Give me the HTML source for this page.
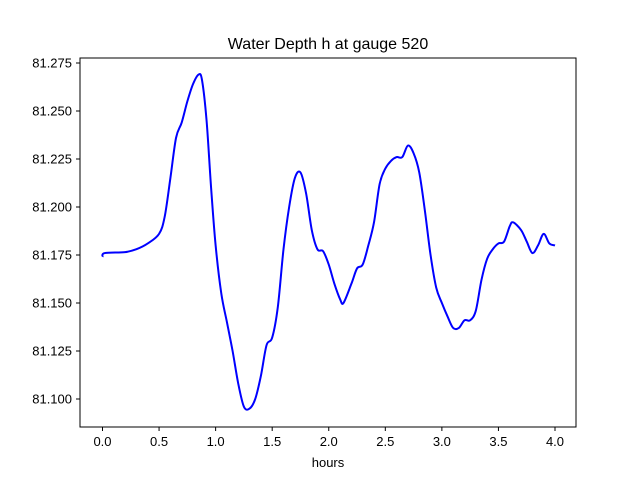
<!DOCTYPE html>
<html><head><meta charset="utf-8"><style>
body{margin:0;background:#fff;}
svg{display:block;font-family:"Liberation Sans","DejaVu Sans",sans-serif;}
</style></head><body>
<svg id="chart" width="640" height="480">
<rect width="640" height="480" fill="#fff"/>
<text x="328" y="49" text-anchor="middle" font-size="16">Water Depth h at gauge 520</text>
<g id="plot"></g>
<rect x="80" y="58" width="496" height="369" fill="none" stroke="#000" stroke-width="1"/>
<text x="328" y="467" text-anchor="middle" font-size="13">hours</text>
</svg>
<script>
const times=[0,0.02,0.2,0.3,0.4,0.5,0.55,0.6,0.65,0.7,0.75,0.8,0.85,0.88,0.92,0.96,1.0,1.05,1.1,1.15,1.2,1.25,1.3,1.35,1.4,1.45,1.5,1.55,1.6,1.65,1.7,1.75,1.8,1.85,1.9,1.95,2.0,2.05,2.1,2.13,2.2,2.25,2.3,2.35,2.4,2.45,2.5,2.55,2.6,2.65,2.7,2.75,2.8,2.85,2.9,2.95,3.0,3.05,3.1,3.15,3.2,3.25,3.3,3.35,3.4,3.45,3.5,3.55,3.6,3.63,3.7,3.75,3.8,3.85,3.9,3.95,4.0];
const depths=[81.174,81.176,81.1765,81.178,81.181,81.186,81.195,81.215,81.236,81.244,81.255,81.264,81.269,81.266,81.245,81.21,81.18,81.155,81.14,81.125,81.108,81.096,81.095,81.100,81.112,81.128,81.132,81.148,81.178,81.200,81.215,81.218,81.207,81.188,81.178,81.177,81.170,81.160,81.152,81.150,81.160,81.168,81.170,81.180,81.192,81.212,81.220,81.224,81.226,81.226,81.232,81.228,81.218,81.198,81.175,81.158,81.150,81.143,81.137,81.137,81.141,81.141,81.146,81.162,81.173,81.178,81.181,81.182,81.190,81.192,81.188,81.182,81.176,81.180,81.186,81.181,81.180];
const xTicks=[0,0.5,1,1.5,2,2.5,3,3.5,4];
const xTickLabels=["0.0","0.5","1.0","1.5","2.0","2.5","3.0","3.5","4.0"];
const yTicks=[81.1,81.125,81.15,81.175,81.2,81.225,81.25,81.275];
const yTickLabels=["81.100","81.125","81.150","81.175","81.200","81.225","81.250","81.275"];
const NS="http://www.w3.org/2000/svg";
const xS=v=>102.5+(v-0)*(555-102.5)/4;
const yS=v=>399-(v-81.1)*(399-63)/0.175;
const g=document.getElementById('plot');
function mk(t,a){const e=document.createElementNS(NS,t);for(const k in a)e.setAttribute(k,a[k]);g.appendChild(e);return e;}
xTicks.forEach((v,i)=>{
  const l=mk('line',{x1:xS(v),x2:xS(v),y1:427,y2:431,stroke:'#000'});
  
  
  const t=mk('text',{x:xS(v),y:446,'text-anchor':'middle','font-size':13});
  t.textContent=xTickLabels[i];
  
  
});
yTicks.forEach((v,i)=>{
  const l=mk('line',{x1:76,x2:80,y1:yS(v),y2:yS(v),stroke:'#000'});
  
  
  const t=mk('text',{x:72,y:yS(v)+4.5,'text-anchor':'end','font-size':13});
  t.textContent=yTickLabels[i];
  
  
});
const pts=times.map((t,i)=>[xS(t),yS(depths[i])]);
let d='M'+pts[0][0]+','+pts[0][1];
for(let i=0;i<pts.length-1;i++){
  const p0=pts[Math.max(0,i-1)],p1=pts[i],p2=pts[i+1],p3=pts[Math.min(pts.length-1,i+2)];
  const c1=[p1[0]+(p2[0]-p0[0])/6,p1[1]+(p2[1]-p0[1])/6];
  const c2=[p2[0]-(p3[0]-p1[0])/6,p2[1]-(p3[1]-p1[1])/6];
  d+=' C'+c1[0]+','+c1[1]+' '+c2[0]+','+c2[1]+' '+p2[0]+','+p2[1];
}
const line=mk('path',{d:d,fill:'none',stroke:'#0000ff','stroke-width':2,'stroke-linejoin':'round'});


</script>
</body></html>
